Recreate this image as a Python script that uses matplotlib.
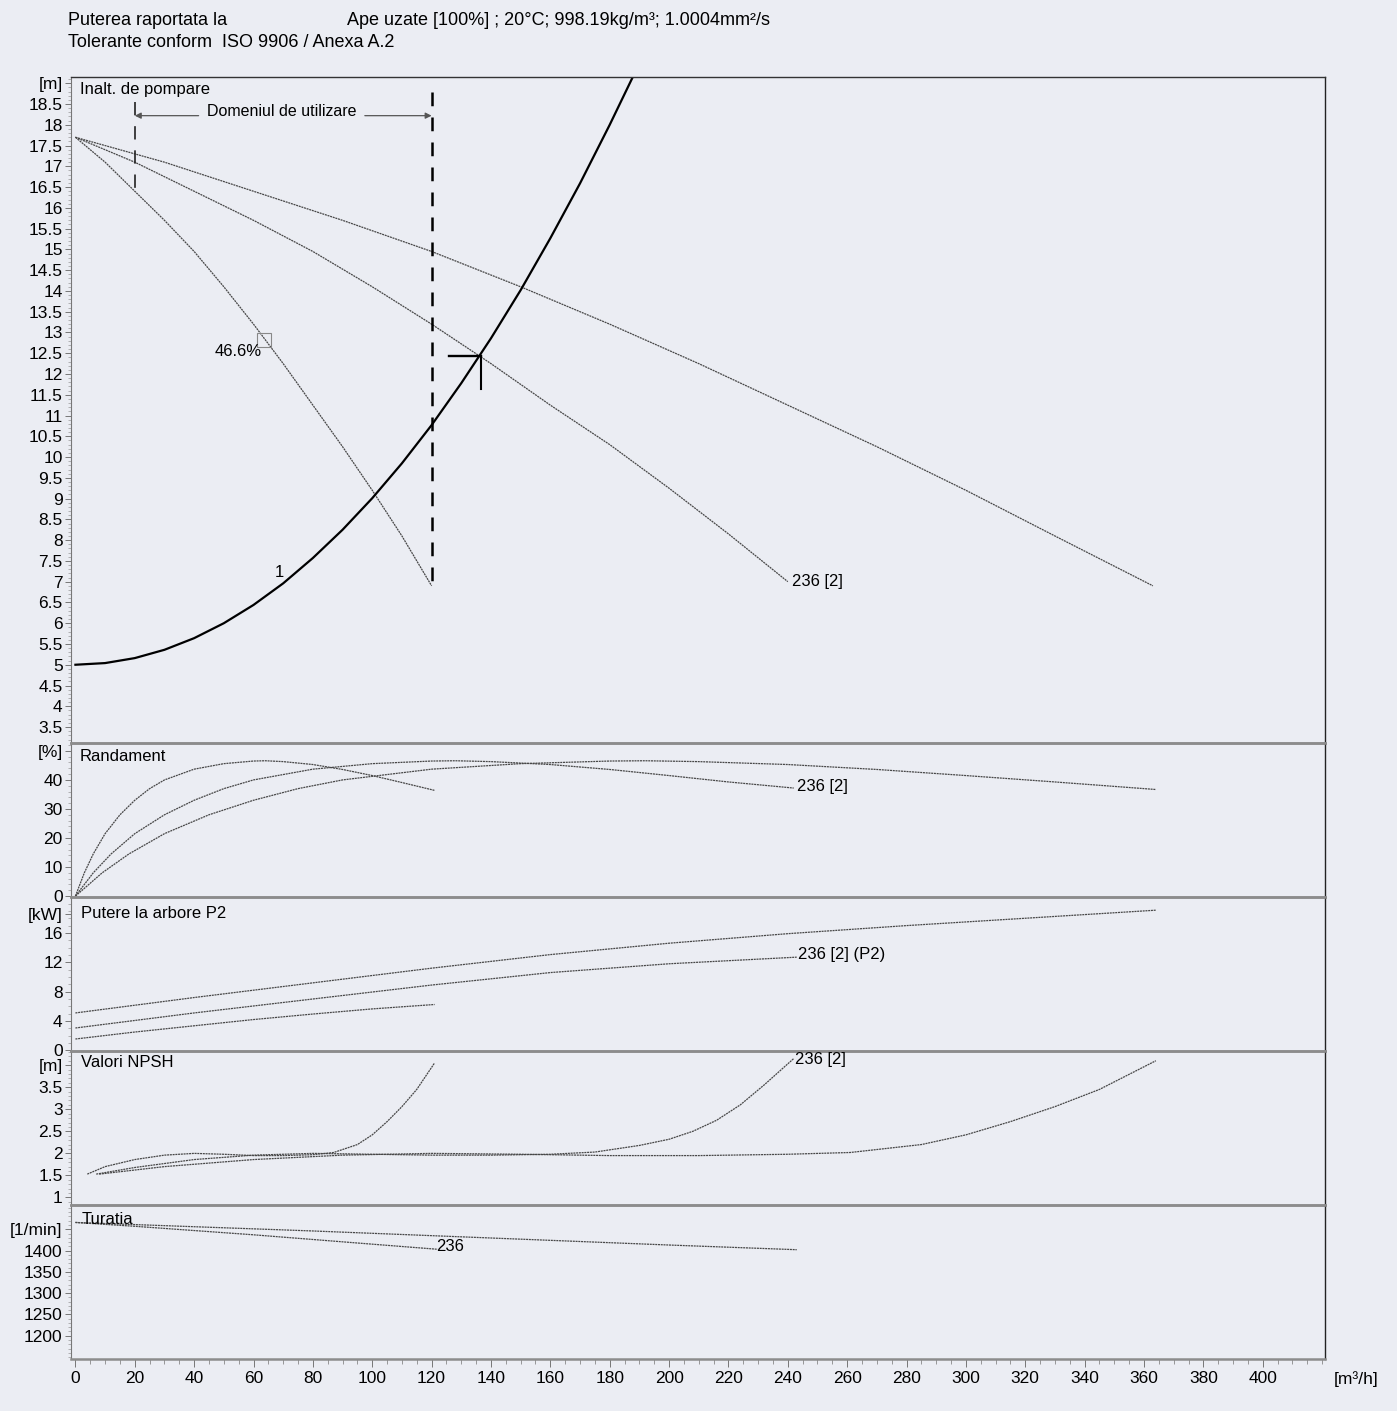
import matplotlib.pyplot as plt
from matplotlib.ticker import MultipleLocator

plt.rcParams['font.family'] = ['Liberation Sans', 'DejaVu Sans']

# ---- values read from the scanned pump sheet (flow in m3/h) ----
# curve "a" = single pump (ends ~120), "b" = "236 [2]" (ends ~240), "c" = third curve (ends ~363)

# head [m]
q_head_a = [0, 10, 20, 30, 40, 50, 60, 70, 80, 90, 100, 110, 120]
h_head_a = [17.7, 17.1, 16.4, 15.7, 14.95, 14.1, 13.2, 12.25, 11.25, 10.25, 9.2, 8.1, 6.9]
q_head_b = [0, 20, 40, 60, 80, 100, 120, 140, 160, 180, 200, 220, 240]
h_head_b = [17.7, 17.1, 16.4, 15.7, 14.95, 14.1, 13.2, 12.25, 11.25, 10.3, 9.25, 8.15, 7.0]
q_head_c = [0, 30, 60, 90, 120, 150, 180, 210, 240, 270, 300, 330, 363]
h_head_c = [17.7, 17.1, 16.4, 15.7, 14.95, 14.1, 13.2, 12.25, 11.25, 10.25, 9.2, 8.1, 6.9]

# system curve "1"
q_system = [0, 10, 20, 30, 40, 50, 60, 70, 80, 90, 100, 110, 120, 130, 140, 150, 160, 170, 180, 190]
h_system = [5.0, 5.04, 5.16, 5.36, 5.64, 6.0, 6.44, 6.96, 7.57, 8.25, 9.01, 9.85, 10.77, 11.78,
            12.86, 14.02, 15.27, 16.59, 18.0, 19.48]

duty_q, duty_h = 136.5, 12.44
bep_q, bep_h = 63.4, 12.82
range_left, range_right = 20, 120

# efficiency [%]
q_eff_a = [0, 3, 6, 10, 15, 20, 25, 30, 40, 50, 60, 64, 70, 80, 90, 100, 110, 121]
e_eff_a = [0, 8, 14.5, 21.5, 28, 33, 37, 40, 43.7, 45.6, 46.5, 46.6, 46.3, 45.3, 43.6, 41.5, 39.1, 36.4]
q_eff_b = [0, 6, 12, 20, 30, 40, 50, 60, 80, 100, 120, 128, 140, 160, 180, 200, 220, 242]
e_eff_b = [0, 8, 14.5, 21.5, 28, 33, 37, 40, 43.7, 45.6, 46.5, 46.6, 46.3, 45.3, 43.6, 41.5, 39.3, 37.2]
q_eff_c = [0, 9, 18, 30, 45, 60, 75, 90, 120, 150, 180, 192, 210, 240, 270, 300, 330, 364]
e_eff_c = [0, 8, 14.5, 21.5, 28, 33, 37, 40, 43.7, 45.6, 46.5, 46.6, 46.3, 45.3, 43.6, 41.5, 39.3, 36.7]

# shaft power P2 [kW]
q_pow_a = [0, 20, 40, 60, 80, 100, 121]
p_pow_a = [1.55, 2.5, 3.35, 4.2, 4.95, 5.65, 6.25]
q_pow_b = [0, 40, 80, 120, 160, 200, 243]
p_pow_b = [3.05, 5.1, 7.0, 8.9, 10.6, 11.8, 12.7]
q_pow_c = [0, 40, 80, 120, 160, 200, 240, 280, 320, 364]
p_pow_c = [5.1, 7.2, 9.2, 11.2, 13.05, 14.6, 15.9, 17.0, 18.0, 19.1]

# NPSH [m]
q_npsh_a = [4, 10, 20, 30, 40, 50, 60, 70, 80, 87, 95, 100, 105, 110, 115, 121]
n_npsh_a = [1.53, 1.7, 1.86, 1.96, 2.0, 1.98, 1.95, 1.95, 1.97, 2.02, 2.2, 2.42, 2.72, 3.06, 3.45, 4.05]
q_npsh_b = [7, 20, 40, 60, 80, 100, 120, 140, 160, 175, 190, 200, 208, 216, 224, 232, 242]
n_npsh_b = [1.53, 1.68, 1.86, 1.96, 2.0, 1.98, 1.96, 1.96, 1.98, 2.03, 2.18, 2.32, 2.5, 2.75, 3.1, 3.55, 4.15]
q_npsh_c = [8, 30, 60, 90, 120, 150, 180, 210, 240, 261, 285, 300, 315, 330, 345, 364]
n_npsh_c = [1.53, 1.7, 1.86, 1.96, 2.0, 1.98, 1.95, 1.95, 1.98, 2.02, 2.2, 2.42, 2.72, 3.06, 3.45, 4.1]

# speed [1/min]
q_speed_a = [0, 20, 40, 60, 80, 100, 122]
n_speed_a = [1466, 1457, 1447, 1437, 1426, 1415, 1403]
q_speed_b = [0, 40, 80, 120, 160, 200, 243]
n_speed_b = [1466, 1456, 1446, 1435, 1424, 1413, 1402]

# axis ticks / labels (last entry of each y list carries the unit)
x_ticks = [0, 20, 40, 60, 80, 100, 120, 140, 160, 180, 200, 220, 240, 260, 280, 300, 320, 340, 360, 380, 400]
head_ticks = [3.5, 4, 4.5, 5, 5.5, 6, 6.5, 7, 7.5, 8, 8.5, 9, 9.5, 10, 10.5, 11, 11.5, 12, 12.5,
              13, 13.5, 14, 14.5, 15, 15.5, 16, 16.5, 17, 17.5, 18, 18.5, 19]
eff_ticks = [0, 10, 20, 30, 40, 50]
pow_ticks = [0, 4, 8, 12, 16, 18.6]
npsh_ticks = [1, 1.5, 2, 2.5, 3, 3.5, 4]
speed_ticks = [1200, 1250, 1300, 1350, 1400, 1450]

BG = '#ebedf3'
CURVE = dict(color='#474747', lw=0.9, ls=(0, (1.6, 0.6)))
XLIM = (-1.5, 421)


def tick_labels(ticks, unit):
    labels = [f'{t:g}' for t in ticks]
    labels[-1] = unit
    return labels


def style_panel(ax, ylim, ticks, unit, minor):
    ax.set_facecolor('none')
    ax.set_xlim(*XLIM)
    ax.set_ylim(*ylim)
    ax.set_yticks(ticks)
    ax.set_yticklabels(tick_labels(ticks, unit), fontsize=12.5)
    ax.yaxis.set_minor_locator(MultipleLocator(minor))
    ax.tick_params(axis='y', which='major', direction='out', length=4, width=0.7, color='#777', pad=2)
    ax.tick_params(axis='y', which='minor', direction='out', length=2, width=0.5, color='#999')
    ax.tick_params(axis='x', which='both', bottom=False, labelbottom=False)
    for s in ['top', 'bottom']:
        ax.spines[s].set_color('#8c8c8c')
        ax.spines[s].set_linewidth(1.8)
    ax.spines['left'].set_color('#777')
    ax.spines['left'].set_linewidth(0.8)
    ax.spines['right'].set_color('#222')
    ax.spines['right'].set_linewidth(1.0)


def main():
    fig = plt.figure(figsize=(13.97, 14.11), dpi=100, facecolor=BG)
    left, width = 0.0508, 0.8977
    ax_h = fig.add_axes([left, 0.4734, width, 0.4720])
    ax_e = fig.add_axes([left, 0.3643, width, 0.1091])
    ax_p = fig.add_axes([left, 0.2548, width, 0.1095])
    ax_n = fig.add_axes([left, 0.1460, width, 0.1088])
    ax_s = fig.add_axes([left, 0.0369, width, 0.1091])

    style_panel(ax_h, (3.115, 19.15), head_ticks, '[m]', 0.1)
    style_panel(ax_e, (-0.3, 52.7), eff_ticks, '[%]', 2)
    style_panel(ax_p, (-0.15, 20.9), pow_ticks, '[kW]', 1)
    style_panel(ax_n, (0.83, 4.31), npsh_ticks, '[m]', 0.1)
    style_panel(ax_s, (1145.5, 1507), speed_ticks, '[1/min]', 10)
    ax_h.spines['top'].set_color('#333')
    ax_h.spines['top'].set_linewidth(1.0)

    # --- head panel ---
    ax_h.plot(q_head_a, h_head_a, **CURVE)
    ax_h.plot(q_head_b, h_head_b, **CURVE)
    ax_h.plot(q_head_c, h_head_c, **CURVE)
    ax_h.plot(q_system, h_system, color='black', lw=1.6)
    ax_h.plot([125.7, duty_q], [duty_h, duty_h], color='black', lw=1.7)
    ax_h.plot([duty_q, duty_q], [duty_h, 11.64], color='black', lw=1.5)
    ax_h.plot([bep_q], [bep_h], marker='s', ms=10, mfc='none', mec='#888', mew=0.8)
    ax_h.text(54.8, 12.55, '46.6%', ha='center', va='center', fontsize=12)
    ax_h.text(68.7, 7.21, '1', ha='center', va='center', fontsize=12)
    ax_h.text(241.5, 7.0, '236 [2]', ha='left', va='center', fontsize=12)
    ax_h.text(1.5, 18.86, 'Inalt. de pompare', ha='left', va='center', fontsize=12)

    # usage range
    ax_h.plot([range_left, range_left], [18.55, 16.4], color='#222', lw=1.2, ls=(0, (8, 6.5)))
    ax_h.plot([range_right, range_right], [18.8, 6.9], color='black', lw=1.8, ls=(0, (5.5, 4.5)))
    arrow = dict(arrowstyle='-|>', color='#555', lw=0.9, mutation_scale=9, shrinkA=0, shrinkB=0)
    ax_h.annotate('', xy=(range_left, 18.22), xytext=(41.5, 18.22), arrowprops=arrow)
    ax_h.annotate('', xy=(range_right, 18.22), xytext=(97.5, 18.22), arrowprops=arrow)
    ax_h.text(69.5, 18.32, 'Domeniul de utilizare', ha='center', va='center', fontsize=11.5)

    # --- efficiency ---
    ax_e.plot(q_eff_a, e_eff_a, **CURVE)
    ax_e.plot(q_eff_b, e_eff_b, **CURVE)
    ax_e.plot(q_eff_c, e_eff_c, **CURVE)
    ax_e.text(243, 37.9, '236 [2]', ha='left', va='center', fontsize=12)
    ax_e.text(1.5, 48, 'Randament', ha='left', va='center', fontsize=12)

    # --- power ---
    ax_p.plot(q_pow_a, p_pow_a, **CURVE)
    ax_p.plot(q_pow_b, p_pow_b, **CURVE)
    ax_p.plot(q_pow_c, p_pow_c, **CURVE)
    ax_p.text(243.5, 13.0, '236 [2] (P2)', ha='left', va='center', fontsize=12)
    ax_p.text(2, 18.6, 'Putere la arbore P2', ha='left', va='center', fontsize=12)

    # --- NPSH ---
    ax_n.plot(q_npsh_a, n_npsh_a, **CURVE)
    ax_n.plot(q_npsh_b, n_npsh_b, **CURVE)
    ax_n.plot(q_npsh_c, n_npsh_c, **CURVE)
    ax_n.text(242.5, 4.13, '236 [2]', ha='left', va='center', fontsize=12)
    ax_n.text(2, 4.05, 'Valori NPSH', ha='left', va='center', fontsize=12)

    # --- speed ---
    ax_s.plot(q_speed_a, n_speed_a, **CURVE)
    ax_s.plot(q_speed_b, n_speed_b, **CURVE)
    ax_s.text(121.5, 1410, '236', ha='left', va='center', fontsize=12)
    ax_s.text(2, 1474, 'Turatia', ha='left', va='center', fontsize=12)

    ax_s.tick_params(axis='x', which='both', bottom=True, labelbottom=True)
    ax_s.set_xticks(x_ticks)
    ax_s.set_xticklabels([str(t) for t in x_ticks], fontsize=12.5)
    ax_s.xaxis.set_minor_locator(MultipleLocator(5))
    ax_s.tick_params(axis='x', which='major', direction='out', length=6, width=0.7, color='#777', pad=3)
    ax_s.tick_params(axis='x', which='minor', direction='out', length=3.5, width=0.6, color='#888')
    ax_s.annotate('[m\u00b3/h]', xy=(1, 0), xycoords='axes fraction', xytext=(6, -9),
                  textcoords='offset points', ha='left', va='top', fontsize=12.5)

    # header
    fig.text(0.0487, 0.9858, 'Puterea raportata la', ha='left', va='center', fontsize=13)
    fig.text(0.2484, 0.9858, 'Ape uzate [100%] ; 20\u00b0C; 998.19kg/m\u00b3; 1.0004mm\u00b2/s',
             ha='left', va='center', fontsize=13)
    fig.text(0.0487, 0.9702, 'Tolerante conform  ISO 9906 / Anexa A.2', ha='left', va='center', fontsize=13)

    fig.savefig('out.png', dpi=100, facecolor=BG)
    plt.close(fig)


if __name__ == '__main__':
    main()
